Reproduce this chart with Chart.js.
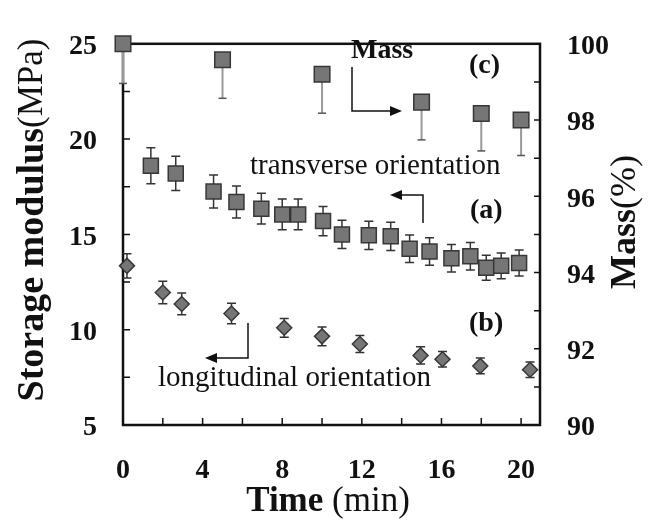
<!DOCTYPE html>
<html>
<head>
<meta charset="utf-8">
<script src="https://cdn.jsdelivr.net/npm/chart.js@4.4.0/dist/chart.umd.min.js"></script>
<style>
  html, body { margin: 0; padding: 0; background: #fff; }
  #wrap { width: 649px; height: 523px; }
</style>
</head>
<body>
<div id="wrap"><canvas id="chart"></canvas></div>
<script>
// (a) transverse orientation - storage modulus (MPa)
const transTime = [1.4, 2.65, 4.55, 5.7, 6.95, 8.0, 8.8, 10.05, 11.0, 12.35, 13.45, 14.4, 15.4, 16.5, 17.45, 18.25, 19.0, 19.9];
const transModulus = [18.6, 18.2, 17.25, 16.7, 16.35, 16.05, 16.05, 15.7, 15.0, 14.95, 14.9, 14.25, 14.1, 13.75, 13.85, 13.25, 13.35, 13.5];
const transErr = [0.94, 0.9, 0.86, 0.84, 0.81, 0.81, 0.81, 0.77, 0.74, 0.74, 0.74, 0.72, 0.72, 0.72, 0.72, 0.66, 0.68, 0.68];

// (b) longitudinal orientation - storage modulus (MPa)
const longTime = [0.2, 2.0, 2.95, 5.45, 8.1, 10.0, 11.9, 14.95, 16.05, 17.95, 20.45];
const longModulus = [13.35, 11.95, 11.35, 10.85, 10.1, 9.65, 9.25, 8.65, 8.45, 8.1, 7.9];
const longErr = [0.64, 0.59, 0.57, 0.54, 0.49, 0.49, 0.44, 0.45, 0.41, 0.41, 0.41];

// (c) mass (%) - error bars only point down
const massTime = [0, 5, 10, 15, 18, 20];
const massValue = [100, 99.58, 99.2, 98.47, 98.17, 98.0];
const massErr = [1.04, 1.01, 1.02, 0.99, 0.98, 0.93];

const xTicks = [0, 4, 8, 12, 16, 20];
const xMinorTicks = [2, 4, 6, 8, 10, 12, 14, 16, 18, 20];
const yLeftMinor = [7.5, 10, 12.5, 15, 17.5, 20, 22.5];
const yRightMinor = [91, 92, 93, 94, 95, 96, 97, 98, 99];

const SERIF = '"Liberation Serif", "Times New Roman", serif';

const toPoints = (xs, ys) => xs.map((x, i) => ({ x: x, y: ys[i] }));

// error bars drawn under the markers
const errorBarPlugin = {
    id: 'errorBars',
    beforeDatasetsDraw(chart) {
        const ctx = chart.ctx;
        chart.data.datasets.forEach((ds, i) => {
            if (!ds.errors) return;
            const meta = chart.getDatasetMeta(i);
            const ys = chart.scales[ds.yAxisID];
            ctx.save();
            meta.data.forEach((pt, j) => {
                const v = ds.data[j].y, e = ds.errors[j];
                const top = ys.getPixelForValue(ds.downOnly ? v : v + e);
                const bot = ys.getPixelForValue(v - e);
                ctx.strokeStyle = ds.barColor;
                ctx.lineWidth = ds.downOnly ? 2 : 1.5;
                ctx.beginPath();
                ctx.moveTo(pt.x, top);
                ctx.lineTo(pt.x, bot);
                ctx.stroke();
                ctx.strokeStyle = ds.capColor;
                ctx.lineWidth = 1.5;
                ctx.beginPath();
                const c = ds.capWidth / 2;
                if (!ds.downOnly) {
                    ctx.moveTo(pt.x - c, top);
                    ctx.lineTo(pt.x + c, top);
                }
                ctx.moveTo(pt.x - c, bot);
                ctx.lineTo(pt.x + c, bot);
                ctx.stroke();
            });
            ctx.restore();
        });
    }
};

// frame and inward tick marks
const framePlugin = {
    id: 'frame',
    beforeDatasetsDraw(chart) {
        const ctx = chart.ctx;
        const a = chart.chartArea;
        const x = chart.scales.x, y = chart.scales.y, y1 = chart.scales.y1;
        ctx.save();
        ctx.strokeStyle = '#111';
        ctx.lineWidth = 1.5;
        ctx.beginPath();
        xMinorTicks.forEach(v => {
            const px = x.getPixelForValue(v);
            ctx.moveTo(px, a.bottom);
            ctx.lineTo(px, a.bottom - 7);
        });
        yLeftMinor.forEach(v => {
            const py = y.getPixelForValue(v);
            ctx.moveTo(a.left, py);
            ctx.lineTo(a.left + 7, py);
        });
        yRightMinor.forEach(v => {
            const py = y1.getPixelForValue(v);
            ctx.moveTo(a.right, py);
            ctx.lineTo(a.right - 6, py);
        });
        ctx.stroke();
        ctx.lineWidth = 2.5;
        ctx.strokeRect(a.left, a.top, a.right - a.left, a.bottom - a.top);
        ctx.restore();
    }
};

function drawMixed(ctx, parts, cx, cy, rot) {
    ctx.save();
    ctx.translate(cx, cy);
    ctx.rotate(rot);
    let total = 0;
    parts.forEach(p => { ctx.font = p.font; total += ctx.measureText(p.text).width; });
    let pos = -total / 2;
    ctx.textBaseline = 'middle';
    ctx.textAlign = 'left';
    ctx.fillStyle = '#111';
    parts.forEach(p => {
        ctx.font = p.font;
        ctx.fillText(p.text, pos, 0);
        pos += ctx.measureText(p.text).width;
    });
    ctx.restore();
}

function arrowHead(ctx, x, y, dir) {
    ctx.beginPath();
    ctx.moveTo(x, y);
    ctx.lineTo(x - dir * 12, y - 5);
    ctx.lineTo(x - dir * 12, y + 5);
    ctx.closePath();
    ctx.fill();
}

// axis titles, labels and arrows
const annotatePlugin = {
    id: 'annotate',
    afterDraw(chart) {
        const ctx = chart.ctx;
        drawMixed(ctx, [
            { text: 'Storage modulus', font: 'bold 38px ' + SERIF },
            { text: '(MPa)', font: '35px ' + SERIF }
        ], 33, 220, -Math.PI / 2);
        drawMixed(ctx, [
            { text: 'Mass', font: 'bold 36px ' + SERIF },
            { text: '(%)', font: '36px ' + SERIF }
        ], 626, 222, -Math.PI / 2);
        drawMixed(ctx, [
            { text: 'Time ', font: 'bold 35px ' + SERIF },
            { text: '(min)', font: '35px ' + SERIF }
        ], 328, 502, 0);

        ctx.save();
        ctx.fillStyle = '#111';
        ctx.textBaseline = 'middle';
        ctx.textAlign = 'left';
        ctx.font = 'bold 28px ' + SERIF;
        ctx.fillText('Mass', 351, 51);
        ctx.fillText('(c)', 469, 66);
        ctx.fillText('(a)', 470, 211);
        ctx.fillText('(b)', 469, 324);
        ctx.font = '29px ' + SERIF;
        ctx.fillText('transverse orientation', 250, 166);
        ctx.fillText('longitudinal orientation', 158, 378);

        ctx.strokeStyle = '#111';
        ctx.lineWidth = 1.5;
        ctx.beginPath();
        ctx.moveTo(352, 67); ctx.lineTo(352, 111); ctx.lineTo(392, 111);
        ctx.moveTo(423, 223); ctx.lineTo(423, 195); ctx.lineTo(400, 195);
        ctx.moveTo(248, 323); ctx.lineTo(248, 358); ctx.lineTo(215, 358);
        ctx.stroke();
        arrowHead(ctx, 402, 111, 1);
        arrowHead(ctx, 390, 195, -1);
        arrowHead(ctx, 205, 358, -1);
        ctx.restore();
    }
};

const markerFill = 'rgb(118,118,118)';
const markerBorder = 'rgb(55,55,55)';

new Chart(document.getElementById('chart').getContext('2d'), {
    type: 'scatter',
    data: {
        datasets: [
            {
                label: 'transverse',
                data: toPoints(transTime, transModulus),
                errors: transErr,
                yAxisID: 'y',
                pointStyle: 'rect',
                pointRadius: 10.6,
                backgroundColor: markerFill,
                borderColor: markerBorder,
                borderWidth: 1.5,
                barColor: '#333', capColor: '#333', capWidth: 9,
                clip: false
            },
            {
                label: 'longitudinal',
                data: toPoints(longTime, longModulus),
                errors: longErr,
                yAxisID: 'y',
                pointStyle: 'rectRot',
                pointRadius: 7.5,
                backgroundColor: markerFill,
                borderColor: markerBorder,
                borderWidth: 1.5,
                barColor: '#333', capColor: '#333', capWidth: 9,
                clip: false
            },
            {
                label: 'mass',
                data: toPoints(massTime, massValue),
                errors: massErr,
                downOnly: true,
                yAxisID: 'y1',
                pointStyle: 'rect',
                pointRadius: 11,
                backgroundColor: markerFill,
                borderColor: markerBorder,
                borderWidth: 1.5,
                barColor: '#999', capColor: '#555', capWidth: 8,
                clip: false
            }
        ]
    },
    options: {
        responsive: true,
        maintainAspectRatio: false,
        animation: false,
        layout: { padding: { top: 20, left: 0, right: 0, bottom: 0 } },
        plugins: {
            legend: { display: false },
            tooltip: { enabled: false }
        },
        scales: {
            x: {
                type: 'linear',
                min: 0,
                max: 20.95,
                grid: { display: false, drawTicks: false },
                border: { display: false },
                afterFit: s => { s.height = 98; },
                afterBuildTicks: s => { s.ticks = xTicks.map(v => ({ value: v })); },
                ticks: {
                    padding: 29,
                    color: '#111',
                    font: { family: SERIF, size: 28, weight: 'bold' }
                }
            },
            y: {
                position: 'left',
                min: 5,
                max: 25,
                grid: { display: false, drawTicks: false },
                border: { display: false },
                afterFit: s => { s.width = 123; },
                ticks: {
                    stepSize: 5,
                    padding: 26,
                    labelOffset: 3,
                    color: '#111',
                    font: { family: SERIF, size: 28, weight: 'bold' }
                }
            },
            y1: {
                position: 'right',
                min: 90,
                max: 100,
                grid: { display: false, drawTicks: false },
                border: { display: false },
                afterFit: s => { s.width = 109; },
                ticks: {
                    stepSize: 2,
                    padding: 27,
                    labelOffset: 3,
                    color: '#111',
                    font: { family: SERIF, size: 28, weight: 'bold' }
                }
            }
        }
    },
    plugins: [framePlugin, errorBarPlugin, annotatePlugin]
});
</script>
</body>
</html>
